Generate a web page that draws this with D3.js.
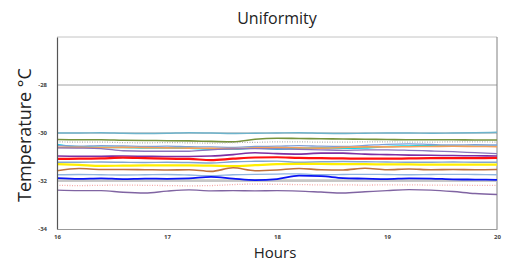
<!DOCTYPE html>
<html>
<head>
<meta charset="utf-8">
<script src="https://cdn.jsdelivr.net/npm/d3@7"></script>
<style>
  body { margin: 0; background: #fff; }
  text { font-family: "Open Sans", sans-serif; }
</style>
</head>
<body>
<div class="canvas"></div>
<script>
// margins and dimensions
const w = 505;
const h = 263;
const margin = { top: 37, right: 8, bottom: 34, left: 57 };
const graphWidth = w - margin.left - margin.right;
const graphHeight = h - margin.top - margin.bottom;

// data
const hours = [16, 16.2, 16.4, 16.6, 16.8, 17, 17.2, 17.4, 17.6, 17.8, 18, 18.2, 18.4, 18.6, 18.8, 19, 19.2, 19.4, 19.6, 19.8, 20];
const xTicks = [16, 17, 18, 19, 20];
const yTicks = [-34, -32, -30, -28];

const s1 = [-30.00, -30.00, -29.99, -30.01, -30.02, -30.01, -29.99, -30.00, -30.02, -30.01, -30.00, -29.99, -30.01, -30.02, -30.01, -30.00, -30.00, -30.01, -30.00, -29.99, -29.97];
const s2 = [-30.27, -30.28, -30.28, -30.30, -30.31, -30.32, -30.33, -30.35, -30.37, -30.26, -30.22, -30.23, -30.24, -30.25, -30.26, -30.27, -30.28, -30.28, -30.28, -30.29, -30.29];
const s3 = [-30.37, -30.38, -30.38, -30.40, -30.41, -30.40, -30.41, -30.42, -30.40, -30.39, -30.37, -30.37, -30.38, -30.38, -30.37, -30.37, -30.38, -30.38, -30.37, -30.37, -30.38];
const s4 = [-30.48, -30.58, -30.60, -30.60, -30.62, -30.62, -30.63, -30.67, -30.68, -30.62, -30.67, -30.64, -30.62, -30.63, -30.62, -30.56, -30.54, -30.52, -30.54, -30.55, -30.55];
const s5 = [-30.52, -30.55, -30.53, -30.54, -30.56, -30.55, -30.57, -30.58, -30.60, -30.56, -30.55, -30.53, -30.55, -30.56, -30.52, -30.47, -30.45, -30.48, -30.50, -30.49, -30.50];
const s6 = [-30.60, -30.60, -30.61, -30.60, -30.61, -30.62, -30.63, -30.64, -30.65, -30.62, -30.61, -30.62, -30.63, -30.60, -30.58, -30.58, -30.57, -30.56, -30.55, -30.56, -30.57];
const s7 = [-30.62, -30.63, -30.65, -30.74, -30.76, -30.76, -30.76, -30.70, -30.66, -30.65, -30.66, -30.68, -30.70, -30.72, -30.70, -30.70, -30.72, -30.75, -30.78, -30.82, -30.86];
const s8 = [-30.96, -30.97, -30.97, -30.96, -30.97, -30.98, -30.98, -30.96, -30.90, -30.82, -30.86, -30.88, -30.84, -30.84, -30.88, -30.90, -30.92, -30.93, -30.94, -30.95, -30.96];
const s9 = [-31.08, -31.07, -31.06, -31.03, -31.05, -31.07, -31.08, -31.13, -31.07, -31.02, -31.01, -31.04, -31.05, -31.06, -31.07, -31.07, -31.06, -31.05, -31.05, -31.05, -31.04];
const s10 = [-31.22, -31.22, -31.21, -31.22, -31.23, -31.22, -31.23, -31.25, -31.20, -31.18, -31.17, -31.22, -31.20, -31.19, -31.20, -31.21, -31.22, -31.22, -31.21, -31.22, -31.22];
const s11 = [-31.30, -31.33, -31.37, -31.36, -31.35, -31.35, -31.35, -31.36, -31.38, -31.34, -31.30, -31.29, -31.29, -31.30, -31.30, -31.31, -31.31, -31.32, -31.32, -31.32, -31.32];
const s12 = [-31.57, -31.48, -31.52, -31.52, -31.53, -31.54, -31.53, -31.60, -31.45, -31.57, -31.54, -31.48, -31.53, -31.54, -31.47, -31.53, -31.50, -31.53, -31.52, -31.53, -31.52];
const s13 = [-31.74, -31.73, -31.74, -31.75, -31.74, -31.73, -31.75, -31.78, -31.74, -31.72, -31.71, -31.70, -31.74, -31.73, -31.72, -31.73, -31.74, -31.73, -31.72, -31.73, -31.74];
const s14 = [-31.88, -31.91, -31.89, -31.92, -31.90, -31.91, -31.89, -31.83, -31.90, -31.96, -31.92, -31.78, -31.80, -31.88, -31.90, -31.92, -31.89, -31.90, -31.93, -31.94, -31.95];
const s15 = [-31.98, -31.98, -31.98, -31.98, -31.98, -31.98, -31.98, -31.98, -31.98, -31.98, -31.98, -31.98, -31.98, -31.98, -31.98, -31.98, -31.98, -31.98, -31.98, -31.98, -31.98];
const s16 = [-32.18, -32.19, -32.18, -32.17, -32.18, -32.19, -32.20, -32.19, -32.15, -32.13, -32.14, -32.15, -32.16, -32.16, -32.17, -32.16, -32.16, -32.17, -32.17, -32.18, -32.18];
const s17 = [-32.38, -32.40, -32.40, -32.47, -32.50, -32.42, -32.37, -32.41, -32.40, -32.41, -32.40, -32.42, -32.46, -32.50, -32.45, -32.40, -32.36, -32.38, -32.44, -32.52, -32.56];

// line styles, bottom of the stack first
const series = [
  { v: s15, color: "#c6c6c6", width: 2.5 },
  { v: s1, color: "#6db3cb", width: 1.4 },
  { v: s2, color: "#77933c", width: 1.6 },
  { v: s3, color: "#b0b0b0", width: 1.2, dash: "1,1.5" },
  { v: s4, color: "#14d8e8", width: 1.6 },
  { v: s5, color: "#7f9fd8", width: 1.3 },
  { v: s6, color: "#f5a05a", width: 1.6 },
  { v: s7, color: "#8a74bd", width: 1.3 },
  { v: s8, color: "#7e2fa3", width: 1.6 },
  { v: s9, color: "#ff1010", width: 2.2 },
  { v: s10, color: "#80a6d2", width: 1.4 },
  { v: s11, color: "#ffef00", width: 2.2 },
  { v: s12, color: "#c0723c", width: 1.6 },
  { v: s13, color: "#8eb4e0", width: 1.3 },
  { v: s14, color: "#0a14f5", width: 1.8 },
  { v: s16, color: "#f4aaa8", width: 1.3, dash: "1,1.5" },
  { v: s17, color: "#8064a2", width: 1.4 }
];

const svg = d3.select(".canvas").append("svg").attr("width", w).attr("height", h);

const graph = svg.append("g")
  .attr("transform", `translate(${margin.left}, ${margin.top})`);

const xScale = d3.scaleLinear().domain([16, 20]).range([0, graphWidth]);
const yScale = d3.scaleLinear().domain([-34, -26]).range([graphHeight, 0]);

// gridlines
graph.selectAll(".grid")
  .data(yTicks.filter(d => d > -34))
  .enter().append("line")
  .attr("x1", 0).attr("x2", graphWidth)
  .attr("y1", d => yScale(d)).attr("y2", d => yScale(d))
  .attr("stroke", "#8c8c8c").attr("stroke-width", 0.8);

// frame
graph.append("line").attr("x1", 0).attr("x2", graphWidth).attr("y1", 0).attr("y2", 0)
  .attr("stroke", "#c4c4c4").attr("stroke-width", 1);
graph.append("line").attr("x1", graphWidth).attr("x2", graphWidth).attr("y1", 0).attr("y2", graphHeight)
  .attr("stroke", "#808080").attr("stroke-width", 1);

// series lines
const line = d3.line()
  .x((d, i) => xScale(hours[i]))
  .y(d => yScale(d))
  .curve(d3.curveMonotoneX);

graph.selectAll(".series")
  .data(series)
  .enter().append("path")
  .attr("d", d => line(d.v))
  .attr("fill", "none")
  .attr("stroke", d => d.color)
  .attr("stroke-width", d => d.width)
  .attr("stroke-dasharray", d => d.dash || null);

// axes
const xAxis = d3.axisBottom(xScale).tickValues(xTicks).tickFormat(d3.format("d")).tickSize(0).tickPadding(6);
const yAxis = d3.axisLeft(yScale).tickValues(yTicks).tickFormat(d => d).tickSize(0).tickPadding(10);

const gx = graph.append("g").attr("transform", `translate(0, ${graphHeight})`).call(xAxis);
const gy = graph.append("g").call(yAxis);

gx.select(".domain").attr("stroke", "#999").attr("stroke-width", 1.2);
gy.select(".domain").attr("stroke", "#555").attr("stroke-width", 1.2);
[gx, gy].forEach(g => g.selectAll("text")
  .attr("font-family", "'Liberation Sans', Arial, sans-serif")
  .attr("font-size", 6)
  .attr("font-weight", "bold")
  .attr("fill", "#444"));

// title and axis labels
svg.append("text")
  .attr("x", 277).attr("y", 24)
  .attr("text-anchor", "middle")
  .attr("font-size", 16)
  .attr("fill", "#222")
  .text("Uniformity");

svg.append("text")
  .attr("x", 275).attr("y", 258)
  .attr("text-anchor", "middle")
  .attr("font-size", 15)
  .attr("fill", "#222")
  .text("Hours");

svg.append("text")
  .attr("transform", "translate(31, 135) rotate(-90)")
  .attr("text-anchor", "middle")
  .attr("font-size", 18)
  .attr("fill", "#222")
  .text("Temperature °C");
</script>
</body>
</html>
